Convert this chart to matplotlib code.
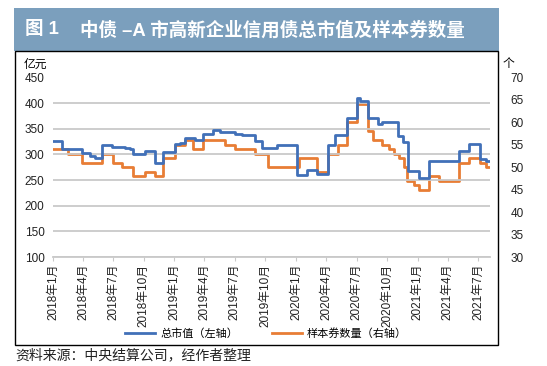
import numpy as np
import pandas as pd
import matplotlib.pyplot as plt
from matplotlib.patches import Rectangle

plt.rcParams['font.family'] = ['Liberation Sans', 'Noto Sans CJK SC', 'DejaVu Sans']

# total market value (亿元), step changes
mv_dates = ["2018-01-02", "2018-01-29", "2018-03-29", "2018-04-22", "2018-05-07",
            "2018-05-28", "2018-06-27", "2018-08-05", "2018-08-20", "2018-08-29",
            "2018-10-04", "2018-11-03", "2018-11-27", "2019-01-02", "2019-01-17",
            "2019-02-01", "2019-03-03", "2019-03-27", "2019-04-26", "2019-05-17",
            "2019-07-01", "2019-07-22", "2019-08-30", "2019-09-20", "2019-11-04",
            "2020-01-03", "2020-02-02", "2020-03-03", "2020-04-05", "2020-04-26",
            "2020-06-01", "2020-07-01", "2020-07-10", "2020-08-03", "2020-09-02",
            "2020-09-17", "2020-11-04", "2020-11-19", "2020-12-04", "2021-01-06",
            "2021-02-05", "2021-05-06", "2021-06-05", "2021-07-08", "2021-07-26",
            "2021-08-05"]
mv_values = [326, 310, 302, 296, 293,
             318, 315, 312, 310, 300,
             306, 283, 305, 320, 322,
             333, 328, 339, 347, 344,
             340, 338, 327, 313, 318,
             259, 270, 261, 319, 338,
             372, 411, 404, 372, 360,
             363, 336, 324, 268, 254,
             287, 307, 320, 291, 287,
             287]

# number of sample bonds (个)
cnt_dates = ["2018-01-02", "2018-02-15", "2018-03-29", "2018-05-28", "2018-06-30",
             "2018-07-27", "2018-08-29", "2018-10-04", "2018-11-03", "2018-11-27",
             "2019-01-02", "2019-02-01", "2019-02-25", "2019-03-27", "2019-06-01",
             "2019-07-01", "2019-08-30", "2019-10-08", "2020-01-11", "2020-03-03",
             "2020-04-05", "2020-05-05", "2020-06-01", "2020-07-01", "2020-08-03",
             "2020-08-18", "2020-09-17", "2020-10-08", "2020-10-23", "2020-11-07",
             "2020-11-22", "2020-12-01", "2020-12-22", "2021-01-06", "2021-02-05",
             "2021-03-07", "2021-05-06", "2021-06-05", "2021-07-08", "2021-07-26",
             "2021-08-05"]
cnt_values = [54, 53, 51, 53, 51,
              50, 48, 49, 48, 52,
              55, 56, 54, 56, 55,
              54, 53, 50, 52, 49,
              53, 55, 60, 64, 58,
              56, 55, 54, 53, 52,
              50, 47, 46, 45, 48,
              47, 51, 52, 51, 50,
              50]

tick_months = pd.date_range("2018-01-01", "2021-07-01", freq="3MS")
tick_labels = [f"{d.year}年{d.month}月" for d in tick_months]

blue = "#4170b8"
orange = "#e87d35"
grid = "#c9c9c9"

fig = plt.figure(figsize=(5.47, 3.66), dpi=100, facecolor="white")
W, H = 547, 366

# title bar
fig.patches.append(Rectangle((14 / W, 1 - 51 / H), 485 / W, 43 / H,
                             transform=fig.transFigure, facecolor="#7b9fbd",
                             edgecolor="none", zorder=0))
fig.text(25 / W, 1 - 30 / H, "图 1", color="white", fontsize=13.3,
         fontweight="bold", va="center", ha="left")
fig.text(80 / W, 1 - 30 / H, "中债 –A 市高新企业信用债总市值及样本券数量",
         color="white", fontsize=13.3, fontweight="bold", va="center", ha="left")
# frame around chart
fig.patches.append(Rectangle((15 / W, 1 - 345 / H), 483 / W, 294 / H,
                             transform=fig.transFigure, facecolor="none",
                             edgecolor="black", linewidth=1.0, zorder=0))
fig.text(15 / W, 1 - 355 / H, "资料来源：中央结算公司，经作者整理",
         fontsize=10, va="center", ha="left", color="#222222")

ax = fig.add_axes([53 / W, 1 - 257 / H, 437 / W, 179.5 / H])
ax2 = ax.twinx()

mv_x = pd.to_datetime(mv_dates)
cnt_x = pd.to_datetime(cnt_dates)
l1, = ax.step(mv_x, mv_values, where="post", color=blue, lw=2.0, zorder=3)
l2, = ax2.step(cnt_x, cnt_values, where="post", color=orange, lw=2.0, zorder=3)
ax.set_zorder(ax2.get_zorder() + 1)
ax.patch.set_visible(False)

ax.set_ylim(100, 450)
ax.set_yticks(np.arange(100, 451, 50))
ax2.set_ylim(30, 70)
ax2.set_yticks(np.arange(30, 71, 5))
ax.set_xlim(pd.Timestamp("2018-01-01"), pd.Timestamp("2021-08-06"))
ax.set_xticks(tick_months)
ax.set_xticklabels(tick_labels, rotation=90, fontsize=8.5, color="#222222")
ax.grid(axis="y", color=grid, lw=1.3)
ax.set_axisbelow(True)

for a in (ax, ax2):
    for s in a.spines.values():
        s.set_visible(False)
ax.spines["bottom"].set_visible(True)
ax.spines["bottom"].set_color(grid)
ax.spines["bottom"].set_linewidth(1.3)
ax.tick_params(axis="x", length=3, color=grid, pad=2)
ax.tick_params(axis="y", length=0, labelsize=8.5, labelcolor="#222222", pad=6)
ax2.tick_params(axis="y", length=0, labelsize=8.5, labelcolor="#222222", pad=15)

fig.text(35 / W, 1 - 65 / H, "亿元", fontsize=8.5, ha="center", va="center")
fig.text(508 / W, 1 - 64 / H, "个", fontsize=8.5, ha="center", va="center")

fig.legend([l1, l2], ["总市值（左轴）", "样本券数量（右轴）"], ncol=2,
           loc="center", bbox_to_anchor=(266 / W, 1 - 333 / H), frameon=False,
           fontsize=8, handlelength=2.7, columnspacing=3.0, handletextpad=0.45)

fig.savefig("out.png", dpi=100, facecolor="white")
